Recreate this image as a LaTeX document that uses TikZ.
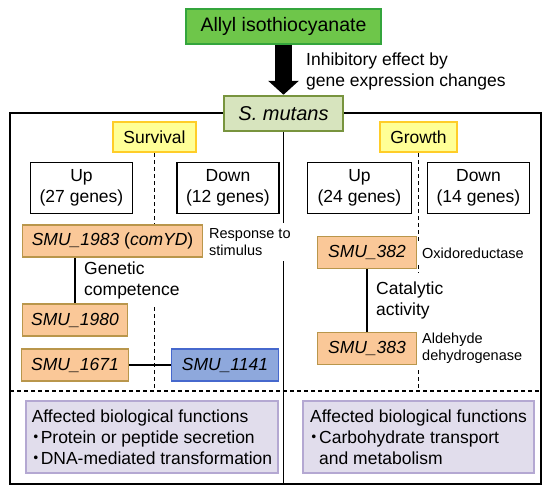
\documentclass[tikz,border=0pt]{standalone}
\usepackage{fontspec}
\setmainfont{Liberation Sans}
\newfontfamily\cjk{Noto Sans CJK JP}
\usetikzlibrary{arrows.meta,backgrounds}
\definecolor{aitcfill}{RGB}{110,198,74}
\definecolor{aitcline}{RGB}{52,165,60}
\definecolor{smutfill}{RGB}{215,228,190}
\definecolor{smutline}{RGB}{120,148,62}
\definecolor{catfill}{RGB}{255,255,150}
\definecolor{catline}{RGB}{255,205,40}
\definecolor{upfill}{RGB}{250,200,152}
\definecolor{upline}{RGB}{185,150,75}
\definecolor{dnfill}{RGB}{142,168,220}
\definecolor{dnline}{RGB}{70,104,205}
\definecolor{funcfill}{RGB}{225,221,236}
\definecolor{funcline}{RGB}{180,168,210}
\newcommand{\dotitem}{\makebox[9pt]{\cjk ・}}

\begin{document}
\begin{tikzpicture}[x=1pt,y=-1pt]
    \tikzstyle{every node}+=[inner sep=0pt, font=\fontsize{17.5}{21}\selectfont]
    \tikzstyle{catbox}=[draw=catline, fill=catfill, line width=2.5pt, minimum height=30pt]
    \tikzstyle{countbox}=[draw, line width=1.3pt, fill=white, minimum width=102pt, minimum height=51pt, align=center]
    \tikzstyle{genebox}=[draw=upline, fill=upfill, line width=1.8pt, minimum height=32pt]
    \tikzstyle{note}=[fill=white, inner xsep=5pt, inner ysep=5pt, align=left, anchor=west]
    \tikzstyle{small}=[font=\fontsize{14.5}{17}\selectfont]
    \tikzstyle{funcbox}=[draw=funcline, fill=funcfill, line width=2pt, minimum height=72pt, align=left]
    \tikzstyle{sepline}=[line width=1.2pt, dash pattern=on 4pt off 3pt]
    \tikzstyle{link}=[line width=2.5pt]
    \useasboundingbox (0,0) rectangle (550,493);
    % top of the picture
    \node [draw=aitcline, fill=aitcfill, line width=2.5pt, minimum width=195pt, minimum height=35pt, font=\fontsize{19.5}{23}\selectfont] (aitc) at (283.5,26.5) {Allyl isothiocyanate};
    \node [draw=smutline, fill=smutfill, line width=2.5pt, minimum width=119pt, minimum height=35pt, font=\fontsize{20}{24}\selectfont\itshape] (smut) at (283.5,113.5) {S. mutans};
    \node [anchor=west, align=left] (inhib) at (306,71) {Inhibitory effect by\\gene expression changes};
    \draw [line width=17pt, -{Triangle[width=30pt,length=14pt]}] (aitc.south) -- (smut.north);
    \coordinate (fnw) at (10,113);
    \coordinate (fse) at (541,484);
    \coordinate (dl) at (10,391);
    \coordinate (dr) at (541,391);
    % survival / growth
    \node [catbox, minimum width=83pt] (surv) at (154.5,137) {Survival};
    \node [catbox, minimum width=77pt] (grow) at (418.5,137) {Growth};
    \node [countbox] (up1) at (81.5,188) {Up\\(27 genes)};
    \node [countbox] (dn1) at (228,188) {Down\\(12 genes)};
    \node [countbox, minimum width=104pt] (up2) at (359.5,188) {Up\\(24 genes)};
    \node [countbox] (dn2) at (478.5,188) {Down\\(14 genes)};
    % labels
    \node [note, small] (resp) at (204,242) {Response to\\stimulus};
    \node [note] (comp) at (79,280) {Genetic\\competence};
    \node [note, inner ysep=8pt] (cata) at (371,300) {Catalytic\\activity};
    \node [note, small] (oxi) at (417,253) {Oxidoreductase};
    \node [note, small] (ald) at (417,348) {Aldehyde\\dehydrogenase};
    % genes
    \node [genebox, minimum width=180pt] (g1983) at (112.5,241) {\textit{SMU\_1983} (\textit{comYD})};
    \node [genebox, minimum width=105pt] (g1980) at (75,320) {\textit{SMU\_1980}};
    \node [genebox, minimum width=107pt] (g1671) at (75,365) {\textit{SMU\_1671}};
    \node [genebox, draw=dnline, fill=dnfill, minimum width=107pt] (g1141) at (225,365) {\textit{SMU\_1141}};
    \node [genebox, minimum width=99pt] (g382) at (367,252.5) {\textit{SMU\_382}};
    \node [genebox, minimum width=99pt] (g383) at (367,348.5) {\textit{SMU\_383}};
    % functions
    \node [funcbox, minimum width=252pt] (fn1) at (152,437) {Affected biological functions\\\dotitem Protein or peptide secretion\\\dotitem DNA-mediated transformation};
    \node [funcbox, minimum width=231pt] (fn2) at (418.5,437) {Affected biological functions\\\dotitem Carbohydrate transport\\\hspace*{9pt}and metabolism};
    \begin{scope}[on background layer]
        \draw [line width=1.2pt] (fnw) rectangle (fse);
        \draw [line width=1.2pt] (smut.south) -- (smut.south |- fse);
        \draw [sepline] (dl) -- (dr);
        \draw [sepline] (surv.south) -- (surv.south |- dl);
        \draw [sepline] (grow.south) -- (grow.south |- dl);
        \draw [link] (g1983.south -| g1980.north) -- (g1980.north);
        \draw [link] (g1671.east) -- (g1141.west);
        \draw [link] (g382.south) -- (g383.north);
    \end{scope}
\end{tikzpicture}
\end{document}
